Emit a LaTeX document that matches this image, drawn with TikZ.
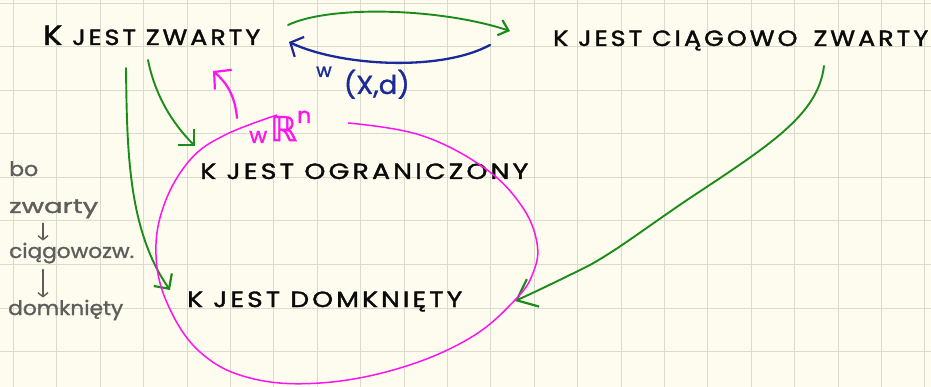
\documentclass[tikz,border=0pt]{standalone}
\usepackage{fontspec}
\usetikzlibrary{arrows.meta}
\setmainfont{Poppins}
\newfontfamily\capsfont[LetterSpace=12,FakeBold=1.6]{Poppins}
\newfontfamily\notefont[FakeBold=1.2]{Poppins}
\newfontfamily\symfont[FakeBold=1.5]{DejaVu Sans}
% stretch a text horizontally to a given width, keeping its height
\newcommand\stretchto[2]{\resizebox{#1}{\height}{#2}}

\definecolor{paper}{HTML}{FDFCEE}
\definecolor{gridc}{HTML}{DCDACB}
\definecolor{pen}{HTML}{0A0A0A}
\definecolor{inkgreen}{HTML}{1B8C1B}
\definecolor{inkblue}{HTML}{1B2A98}
\definecolor{inkmag}{HTML}{FF14F0}
\definecolor{inkgrey}{HTML}{5E5E5E}

\begin{document}
\begin{tikzpicture}[x=1pt,y=-1pt,
  gridline/.style={gridc,line width=1pt},
  caps/.style={inner sep=0pt,anchor=base west,text=pen,
    font=\capsfont\fontsize{22}{22}\selectfont},
  note/.style={inner sep=0pt,anchor=base west,text=inkgrey,
    font=\notefont\fontsize{20}{20}\selectfont},
  barb/.style 2 args={-{Straight Barb[length=#1,width=#2,line width=2.2pt]}},
  greenarrow/.style={inkgreen,line width=1.9pt,line cap=round},
  bluearrow/.style={inkblue,line width=2.3pt,line cap=round},
  magarrow/.style={inkmag,line width=2.2pt,line cap=round},
  notearrow/.style={-{Straight Barb[length=4pt,width=10pt]},inkgrey,line width=1.4pt,line cap=round}]

% paper with a square grid
\fill[paper] (0,0) rectangle (931,387);
\useasboundingbox (0,0) rectangle (931,387);
\begin{scope}
\clip (0,0) rectangle (931,387);
\foreach \i in {0,...,21} \draw[gridline] (13.5+43.4*\i,0) -- ++(0,387);
\foreach \j in {0,...,8} \draw[gridline] (0,3.5+43.5*\j) -- ++(931,0);
\end{scope}

% statements
\node[caps] (zw)  at (43,45)  {\stretchto{217pt}{{\fontsize{28}{28}\selectfont K} JEST ZWARTY}};
\node[caps] (cz)  at (553,46) {\stretchto{375pt}{K JEST CIĄGOWO\hspace{14pt}ZWARTY}};
\node[caps] (og)  at (200,179) {\stretchto{328pt}{K JEST OGRANICZONY}};
\node[caps] (dom) at (187,307) {\stretchto{275pt}{K JEST DOMKNIĘTY}};

% side remark
\node[note] (n1) at (9,176)  {\stretchto{29pt}{bo}};
\node[note] (n2) at (9,213)  {\stretchto{89pt}{zwarty}};
\node[note] (n3) at (9,258)  {\stretchto{125pt}{ciągowozw.}};
\node[note] (n4) at (8,315)  {\stretchto{115pt}{domknięty}};
\draw[notearrow] ([xshift=34pt,yshift=-5pt]n2.south west) -- ([xshift=34pt,yshift=2pt]n3.north west);
\draw[notearrow] ([xshift=34pt,yshift=-6pt]n3.south west) -- ([xshift=35pt,yshift=2pt]n4.north west);

% space labels
\node[inner sep=0pt,anchor=base west,text=inkmag,font=\notefont] (rn) at (249,143)
  {\fontsize{22}{22}\selectfont w\hspace{3pt}\raisebox{2pt}{\symfont\fontsize{34}{34}\selectfont ℝ}\raisebox{20pt}{\fontsize{22}{22}\selectfont n}};
\node[inner sep=0pt,anchor=base west,text=inkblue,font=\notefont] (xd) at (316,94)
  {\raisebox{17pt}{\fontsize{19}{19}\selectfont w}\hspace{12pt}\stretchto{66pt}{\fontsize{26}{26}\selectfont (X,d)}};

% end points of the connectors
\coordinate (a1) at (288,25);  \coordinate (a2) at (510,31);
\coordinate (b1) at (490,45);  \coordinate (b2) at (289,42);
\coordinate (c1) at (148,60);  \coordinate (c2) at (195,146);
\coordinate (d1) at (126,68);  \coordinate (d2) at (170,290);
\coordinate (e1) at (824,66);  \coordinate (e2) at (515,301);
\coordinate (m1) at (237,118); \coordinate (m2) at (213,71);

% implications
\draw[greenarrow,barb={9pt}{16pt}] (a1) .. controls (330,5) and (440,8) .. (a2);
\draw[bluearrow,barb={10pt}{22pt}]  (b1) .. controls (440,72) and (340,66) .. (b2);
\draw[greenarrow,barb={11pt}{22pt}] (c1) .. controls (155,95) and (172,123) .. (c2);
\draw[greenarrow,barb={11pt}{22pt}] (d1) .. controls (127,150) and (128,230) .. (d2);
\draw[greenarrow,barb={18pt}{30pt}] (e1) .. controls (818,115) and (770,145) .. (687,200)
  .. controls (640,232) and (620,248) .. (590,265)
  .. controls (560,280) and (535,292) .. (e2);
\draw[magarrow,barb={12pt}{26pt}] (m1) .. controls (235,95) and (226,82) .. (m2);

% the loop around the two properties
\draw[inkmag,line width=1.5pt] plot[smooth,tension=0.65] coordinates {
  (348,123) (420,135) (483,167) (521,205) (537,243) (533,273) (515,300)
  (470,338) (400,368) (320,383) (250,378) (200,352) (168,305) (156,255)
  (164,205) (190,160) (225,135) (277,115)};
\end{tikzpicture}
\end{document}
